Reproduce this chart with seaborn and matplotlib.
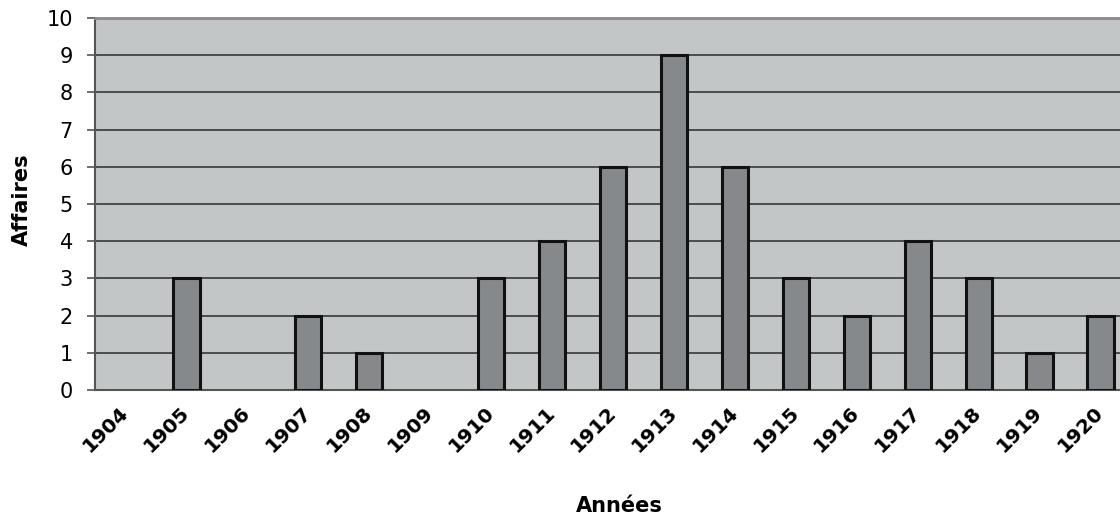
import matplotlib
matplotlib.use("Agg")
import matplotlib.pyplot as plt
import numpy as np
import pandas as pd
import seaborn as sns

# Data
years = [str(y) for y in range(1904, 1921)]
affaires = [0, 3, 0, 2, 1, 0, 3, 4, 6, 9, 6, 3, 2, 4, 3, 1, 2]

df = pd.DataFrame({"Année": years, "Affaires": affaires})

sns.set_style("white")
plt.rcParams["font.family"] = ["DejaVu Sans"]
plt.rcParams["text.color"] = "black"
plt.rcParams["xtick.color"] = "black"
plt.rcParams["ytick.color"] = "black"

fig = plt.figure(figsize=(11.2, 5.17), dpi=100)
# plot area runs a little past the right edge, like the reference
ax = fig.add_axes([95 / 1120, 127 / 517, 1036 / 1120, 372 / 517])
ax.set_facecolor("#c3c6c6")

sns.barplot(data=df, x="Année", y="Affaires", order=years, color="#86898b",
            edgecolor="#111111", linewidth=2.2, width=0.43, saturation=1, ax=ax, zorder=3)

# empty years show no outline
for bar, v in zip(ax.patches, affaires):
    if v == 0:
        bar.set_visible(False)

ax.set_xlim(-0.5, len(years) - 0.5)
ax.set_ylim(0, 10)
ax.set_yticks(range(0, 11))
ax.yaxis.grid(True, color="#2a2a2a", linewidth=1.1, zorder=1)
ax.set_axisbelow(True)

# category labels centred, ticks on the boundaries
ax.set_xticks(range(len(years)))
ax.set_xticks(np.arange(-0.5, len(years), 1), minor=True)
ax.set_xticklabels(years, rotation=45, ha="right", va="center",
                   rotation_mode="anchor", fontsize=14.5, fontweight="bold")
ax.tick_params(axis="x", which="major", length=0, pad=14)
ax.tick_params(axis="x", which="minor", length=6, width=1.2, color="#666666")
ax.tick_params(axis="y", length=6, width=1.2, color="#555555", labelsize=15, pad=10, left=True)

for side in ["left", "bottom"]:
    ax.spines[side].set_color("#555555")
    ax.spines[side].set_linewidth(1.5)
ax.spines["top"].set_color("#8a8a8a")
ax.spines["top"].set_linewidth(2)
ax.spines["right"].set_visible(False)

ax.set_xlabel("")
ax.set_ylabel("")
fig.text(22 / 1120, 1 - 200 / 517, "Affaires", rotation=90, ha="center", va="center",
         fontsize=15, fontweight="bold")
fig.text(619 / 1120, 1 - 506 / 517, "Années", ha="center", va="center",
         fontsize=15, fontweight="bold")

fig.savefig("out.png", dpi=100)
